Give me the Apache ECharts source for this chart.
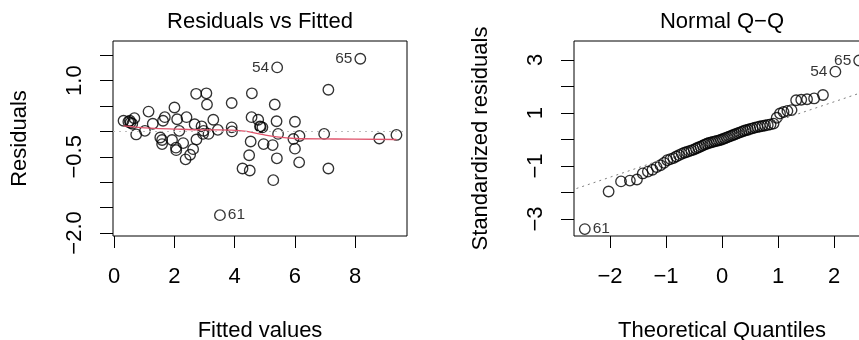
<!DOCTYPE html>
<html><head><meta charset="utf-8">
<script src="https://cdn.jsdelivr.net/npm/echarts@6/dist/echarts.min.js"></script>
<style>html,body{margin:0;padding:0;background:#fff}#c{width:859px;height:340px}</style>
</head><body><div id="c"></div>
<script>
// ---- Residuals vs Fitted ----
const fitted = [0.31,0.47,0.52,0.54,0.60,0.67,0.73,1.02,1.14,1.28,1.53,1.59,1.59,1.62,1.68,1.92,2.00,2.05,2.06,2.09,2.16,2.29,2.37,2.40,2.52,2.62,2.67,2.72,2.73,2.90,2.95,2.97,3.06,3.08,3.13,3.29,3.44,3.51,3.90,3.90,3.91,4.26,4.48,4.50,4.53,4.57,4.56,4.78,4.84,4.86,4.92,4.96,5.26,5.28,5.33,5.39,5.40,5.41,5.44,5.95,6.00,6.00,6.15,6.14,6.97,7.11,7.11,8.17,8.80,9.37];
const residuals = [0.21,0.19,0.21,0.17,0.15,0.26,-0.06,0.01,0.39,0.15,-0.12,-0.17,-0.25,0.21,0.28,-0.17,0.47,-0.32,-0.37,0.24,0.01,-0.23,-0.55,0.28,-0.46,-0.35,0.14,0.74,-0.16,0.10,-0.05,0.01,0.75,0.53,-0.05,0.23,0.03,-1.65,0.56,0.08,0.00,-0.73,-0.47,-0.77,-0.20,0.75,0.28,0.23,0.10,0.09,0.08,-0.25,-0.27,-0.96,0.53,0.20,-0.53,1.26,-0.05,-0.15,0.19,-0.34,-0.09,-0.61,-0.05,0.82,-0.73,1.43,-0.14,-0.07];
const smoothX = [0.31,1.2,2.1,3.0,3.9,4.4,4.9,5.4,6.0,7.3,9.37];
const smoothY = [0.11,0.065,0.045,0.03,0.025,0.0,-0.06,-0.11,-0.14,-0.15,-0.16];
const idLabels = ['61','65','54'];   // ids of the 3 largest |residual|, in decreasing order
const resXTicks = [0,2,4,6,8];
const resYTicks = [-2,-1.5,-1,-0.5,0,0.5,1,1.5];
const resYLabels = [-2,-0.5,1];

// ---- Normal Q-Q ----
const theoQ = [-2.450,-2.025,-1.803,-1.645,-1.519,-1.415,-1.324,-1.242,-1.168,-1.099,-1.036,-0.977,-0.921,-0.867,-0.817,-0.768,-0.720,-0.674,-0.630,-0.587,-0.545,-0.504,-0.464,-0.424,-0.385,-0.347,-0.309,-0.272,-0.235,-0.198,-0.162,-0.126,-0.090,-0.054,-0.018,0.018,0.054,0.090,0.126,0.162,0.198,0.235,0.272,0.309,0.347,0.385,0.424,0.464,0.504,0.545,0.587,0.630,0.674,0.720,0.768,0.817,0.867,0.921,0.977,1.036,1.099,1.168,1.242,1.324,1.415,1.519,1.645,1.803,2.025,2.450];
const stdResid = [-3.38,-1.96,-1.58,-1.55,-1.51,-1.28,-1.21,-1.14,-1.04,-0.97,-0.88,-0.78,-0.74,-0.70,-0.64,-0.59,-0.54,-0.50,-0.47,-0.44,-0.41,-0.38,-0.34,-0.30,-0.27,-0.23,-0.19,-0.16,-0.13,-0.11,-0.09,-0.07,-0.05,-0.03,-0.01,0.02,0.05,0.08,0.11,0.14,0.17,0.20,0.23,0.26,0.29,0.32,0.35,0.37,0.40,0.42,0.45,0.47,0.49,0.51,0.53,0.55,0.57,0.60,0.82,0.98,1.04,1.08,1.11,1.48,1.50,1.52,1.55,1.68,2.56,2.98];
const qqLineX = [-2.7, 2.7];
const qqLineY = [-1.92, 1.92];
const qqXTicks = [-2,-1,0,1,2];
const qqYTicks = [-3,-2,-1,0,1,2,3];
const qqYLabels = [-3,-1,1,3];

const FONT = "'Liberation Sans', Arial, Helvetica, sans-serif";
const FS = 22;
const minus = v => (v < 0 ? '\u2212' : '') + Math.abs(v);
const minus1 = v => (v < 0 ? '\u2212' : '') + Math.abs(v).toFixed(1);

function labelTop3(xs, ys) {
  const order = ys.map((v, i) => i).sort((a, b) => Math.abs(ys[b]) - Math.abs(ys[a])).slice(0, 3);
  const mid = (Math.min(...xs) + Math.max(...xs)) / 2;
  return xs.map((x, i) => {
    const k = order.indexOf(i);
    const item = { value: [x, ys[i]] };
    if (k >= 0) {
      item.label = { show: true, formatter: idLabels[k], position: x > mid ? 'left' : 'right',
        distance: 2, fontSize: 15.5, color: '#000', fontFamily: FONT };
    }
    return item;
  });
}

const pointStyle = { color: 'rgba(0,0,0,0)', borderColor: '#000', borderWidth: 1.35 };
const axText = { fontSize: FS, color: '#000', fontFamily: FONT };
function xAx(grid, min, max, ticks, fmt, name) {
  return { gridIndex: grid, type: 'value', min, max,
    axisLine: { show: false, onZero: false }, splitLine: { show: false },
    axisTick: { show: true, length: 12, customValues: ticks, lineStyle: { color: '#000', width: 1 } },
    axisLabel: Object.assign({ customValues: ticks, margin: 30, formatter: fmt }, axText),
    name, nameLocation: 'middle', nameGap: 84, nameTextStyle: axText };
}
function yAx(grid, min, max, ticks, labels, fmt, name) {
  return { gridIndex: grid, type: 'value', min, max,
    axisLine: { show: false, onZero: false }, splitLine: { show: false },
    axisTick: { show: true, length: 13, customValues: ticks, lineStyle: { color: '#000', width: 1 } },
    axisLabel: Object.assign({ customValues: labels, rotate: 90, align: 'center', verticalAlign: 'bottom',
      margin: 27, formatter: fmt }, axText),
    name, nameLocation: 'middle', nameGap: 82, nameTextStyle: axText };
}

const chart = echarts.init(document.getElementById('c'), null, { renderer: 'canvas' });
chart.setOption({
  animation: false,
  textStyle: { fontFamily: FONT },
  graphic: [
    { type: 'text', x: 260, y: 22, style: { text: 'Residuals vs Fitted', fontSize: FS, fontFamily: FONT, fill: '#000', align: 'center', verticalAlign: 'middle' } },
    { type: 'text', x: 722, y: 22, style: { text: 'Normal Q\u2212Q', fontSize: FS, fontFamily: FONT, fill: '#000', align: 'center', verticalAlign: 'middle' } }
  ],
  grid: [
    { left: 113, top: 41, width: 294, height: 195, show: true, borderColor: '#000', borderWidth: 1,
      containLabel: false, outerBoundsMode: 'none' },
    { left: 574, top: 41, width: 296, height: 195, show: true, borderColor: '#000', borderWidth: 1,
      containLabel: false, outerBoundsMode: 'none' }
  ],
  xAxis: [
    xAx(0, -0.04, 9.72, resXTicks, minus, 'Fitted values'),
    xAx(1, -2.643, 2.643, qqXTicks, minus, 'Theoretical Quantiles')
  ],
  yAxis: [
    yAx(0, -2.06, 1.78, resYTicks, resYLabels, minus1, 'Residuals'),
    yAx(1, -3.64, 3.717, qqYTicks, qqYLabels, minus, 'Standardized residuals')
  ],
  series: [
    { type: 'scatter', xAxisIndex: 0, yAxisIndex: 0, symbol: 'circle', symbolSize: 10.5,
      itemStyle: pointStyle, data: labelTop3(fitted, residuals), z: 2 },
    { type: 'line', xAxisIndex: 0, yAxisIndex: 0, smooth: 0.4, symbol: 'none',
      lineStyle: { color: '#DF536B', width: 1.3 }, data: smoothX.map((x, i) => [x, smoothY[i]]), z: 3,
      markLine: { silent: true, symbol: 'none', label: { show: false },
        lineStyle: { color: '#BEBEBE', type: [2, 4], width: 1 }, data: [{ yAxis: 0 }] } },
    { type: 'scatter', xAxisIndex: 1, yAxisIndex: 1, symbol: 'circle', symbolSize: 10.5,
      itemStyle: pointStyle, data: labelTop3(theoQ, stdResid), z: 2 },
    { type: 'line', xAxisIndex: 1, yAxisIndex: 1, symbol: 'none', clip: true,
      lineStyle: { color: '#7F7F7F', type: [2, 4], width: 1 }, data: qqLineX.map((x, i) => [x, qqLineY[i]]), z: 3 }
  ]
});
</script></body></html>
